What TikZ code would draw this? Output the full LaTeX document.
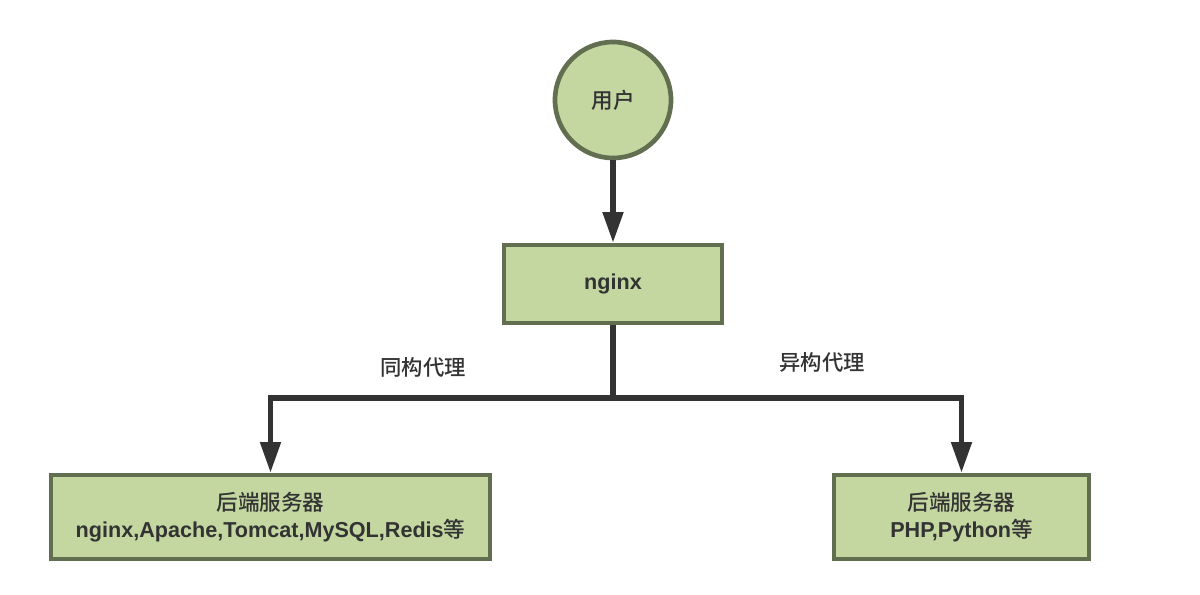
\documentclass[tikz,border=0pt]{standalone}
\usepackage{fontspec}
\setmainfont{Liberation Sans}
\newfontfamily\cjk{Noto Sans CJK SC Medium}
\usetikzlibrary{arrows.meta}
\definecolor{boxfill}{RGB}{196,215,161}
\definecolor{boxline}{RGB}{98,110,80}
\definecolor{linec}{RGB}{51,51,51}
\definecolor{txt}{RGB}{51,51,51}
\newcommand{\zh}[1]{{\cjk\mdseries #1}}
\begin{document}
\begin{tikzpicture}[x=0.75pt,y=-0.75pt,
  shapebox/.style={draw=boxline,fill=boxfill,line width=3.5pt,text=txt,font=\bfseries\fontsize{16.2}{20}\selectfont,align=center,inner sep=0pt},
  conn/.style={draw=linec,line width=3.8pt,-{Triangle[length=23pt,width=15pt]}},
  lbl/.style={text=txt,font=\cjk\fontsize{16}{19}\selectfont}]
\useasboundingbox (0,0) rectangle (1200,594);
\node[shapebox,circle,minimum size=116*0.75pt] (user) at (613,100) {\zh{用户}};
\node[shapebox,rectangle,minimum width=218*0.75pt,minimum height=78*0.75pt] (ngx) at (613,284) {nginx};
\node[shapebox,rectangle,minimum width=439*0.75pt,minimum height=84*0.75pt] (left) at (270.5,517) {\zh{后端服务器}\\nginx,Apache,Tomcat,MySQL,Redis\zh{等}};
\node[shapebox,rectangle,minimum width=255*0.75pt,minimum height=84*0.75pt] (right) at (961.5,517) {\zh{后端服务器}\\PHP,Python\zh{等}};
\coordinate (split) at (613,398);
\draw[conn] (user) -- (ngx);
\draw[draw=linec,line width=3.8pt] (ngx.south) -- (split);
\draw[conn] (split) -| (left.north);
\draw[conn] (split) -| (right.north);
\node[lbl] (l1) at (423,367) {同构代理};
\node[lbl] (l2) at (822,362) {异构代理};
\end{tikzpicture}
\end{document}
